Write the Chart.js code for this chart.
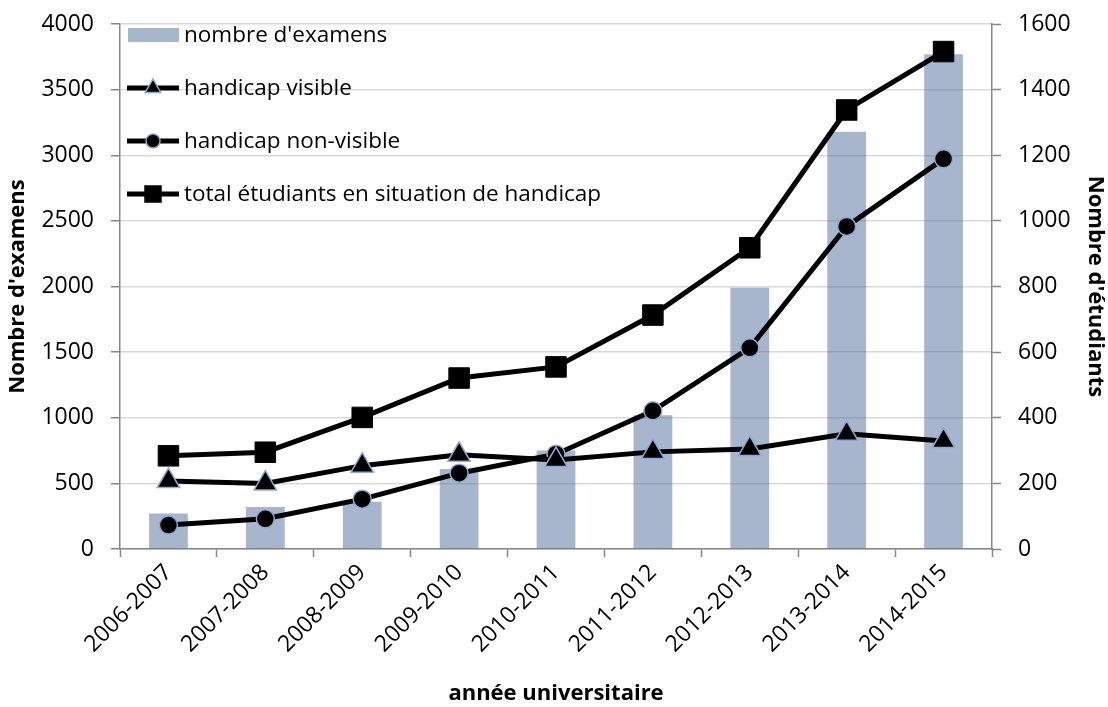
<!DOCTYPE html>
<html>
<head>
<meta charset="utf-8">
<script src="https://cdn.jsdelivr.net/npm/chart.js@4.4.1/dist/chart.umd.min.js"></script>
<style>
  body { margin: 0; background: #fff; }
</style>
</head>
<body>
<canvas id="myChart" width="1108" height="707"></canvas>
<script>
// Data
const years = ['2006-2007', '2007-2008', '2008-2009', '2009-2010', '2010-2011',
  '2011-2012', '2012-2013', '2013-2014', '2014-2015'];
const examens = [270, 320, 360, 610, 750, 1020, 1990, 3180, 3770];
const visible = [207, 200, 254, 287, 271, 296, 305, 351, 329];
const nonVisible = [73, 92, 152, 231, 289, 421, 613, 983, 1189];
const total = [284, 295, 401, 521, 555, 713, 918, 1338, 1516];

const barColor = 'rgba(80,110,155,0.5)';
const markerEdge = '#8eaad6';
const axisGray = '#868686';
const FONT = 'Open Sans';
const TICK_SIZE = 23;
const TITLE_SIZE = 22;

//legend drawn inside the plot area, top left
const insideLegend = {
  id: 'insideLegend',
  afterDatasetsDraw(chart) {
    const ctx = chart.ctx;
    const ds = chart.data.datasets;
    const x0 = 127, x1 = 179, tx = 184;
    const rows = [35, 88, 141, 194];
    ctx.save();
    ctx.font = '22.5px ' + FONT;
    ctx.textBaseline = 'middle';
    ds.forEach((d, i) => {
      const y = rows[i];
      if (d.type === 'bar') {
        ctx.fillStyle = barColor;
        ctx.fillRect(x0 + 1, y - 7, x1 - x0 - 1, 14);
      } else {
        ctx.strokeStyle = '#000';
        ctx.lineWidth = 5;
        ctx.beginPath();
        ctx.moveTo(x0, y);
        ctx.lineTo(x1, y);
        ctx.stroke();
        const cx = (x0 + x1) / 2;
        ctx.fillStyle = '#000';
        ctx.strokeStyle = d.pointBorderColor;
        ctx.lineWidth = 1.5;
        ctx.beginPath();
        if (d.pointStyle === 'triangle') {
          const r = 9;
          ctx.moveTo(cx, y - r);
          ctx.lineTo(cx + r * 0.866, y + r / 2);
          ctx.lineTo(cx - r * 0.866, y + r / 2);
          ctx.closePath();
        } else if (d.pointStyle === 'circle') {
          ctx.arc(cx, y, 7, 0, Math.PI * 2);
        } else {
          ctx.rect(cx - 8, y - 8, 16, 16);
        }
        ctx.fill();
        ctx.stroke();
      }
      ctx.fillStyle = '#000';
      ctx.fillText(d.label, tx, y + 1);
    });
    ctx.restore();
  }
};

const plain = v => String(v);

//fixed axis sizes so the plot area sits where the original one does
function fixWidth(w) {
  return scale => {
    scale.width = w;
    scale.paddingTop = 0;
    scale.paddingBottom = 0;
  };
}

let myChart = new Chart(document.getElementById('myChart').getContext('2d'), {
  data: {
    labels: years,
    datasets: [
      {
        type: 'bar',
        label: "nombre d'examens",
        data: examens,
        yAxisID: 'y',
        backgroundColor: barColor,
        barPercentage: 0.4,
        categoryPercentage: 1,
        order: 2
      },
      {
        type: 'line',
        label: 'handicap visible',
        data: visible,
        yAxisID: 'y1',
        borderColor: '#000',
        borderWidth: 5,
        pointStyle: 'triangle',
        pointRadius: 13,
        pointBackgroundColor: '#000',
        pointBorderColor: markerEdge,
        pointBorderWidth: 1.5,
        tension: 0,
        order: 1
      },
      {
        type: 'line',
        label: 'handicap non-visible',
        data: nonVisible,
        yAxisID: 'y1',
        borderColor: '#000',
        borderWidth: 5,
        pointStyle: 'circle',
        pointRadius: 9,
        pointBackgroundColor: '#000',
        pointBorderColor: markerEdge,
        pointBorderWidth: 1.5,
        tension: 0,
        order: 1
      },
      {
        type: 'line',
        label: 'total étudiants en situation de handicap',
        data: total,
        yAxisID: 'y1',
        borderColor: '#000',
        borderWidth: 5,
        pointStyle: 'rect',
        pointRadius: 14.5,
        pointBackgroundColor: '#000',
        pointBorderColor: '#000',
        pointBorderWidth: 1,
        tension: 0,
        order: 1
      }
    ]
  },
  options: {
    responsive: false,
    animation: false,
    devicePixelRatio: 1,
    layout: { padding: { top: 24, left: 0, right: 0, bottom: 0 } },
    plugins: {
      legend: { display: false },
      tooltip: { enabled: false }
    },
    scales: {
      x: {
        offset: true,
        grid: {
          offset: true,
          drawOnChartArea: false,
          drawTicks: true,
          tickLength: 8,
          tickColor: axisGray,
          tickWidth: 1.5
        },
        border: { color: axisGray, width: 1.5 },
        ticks: {
          color: '#000',
          font: { family: FONT, size: TICK_SIZE },
          minRotation: 45,
          maxRotation: 45,
          padding: 2
        },
        title: {
          display: true,
          text: 'année universitaire',
          color: '#000',
          font: { family: FONT, size: TITLE_SIZE, weight: 'bold' },
          padding: { top: 0, bottom: 0 }
        },
        afterFit(scale) { scale.height = 158; }
      },
      y: {
        position: 'left',
        min: 0,
        max: 4000,
        ticks: {
          stepSize: 500,
          color: '#000',
          font: { family: FONT, size: TICK_SIZE },
          padding: 17,
          callback: plain
        },
        grid: {
          color: '#d9d9d9',
          lineWidth: 1.5,
          tickLength: 9,
          tickColor: axisGray
        },
        border: { color: axisGray, width: 1.5 },
        title: {
          display: true,
          text: "Nombre d'examens",
          color: '#000',
          font: { family: FONT, size: TITLE_SIZE, weight: 'bold' },
          padding: { top: 5, bottom: 0 }
        },
        afterFit: fixWidth(120)
      },
      y1: {
        position: 'right',
        min: 0,
        max: 1600,
        ticks: {
          stepSize: 200,
          color: '#000',
          font: { family: FONT, size: TICK_SIZE },
          padding: 17,
          callback: plain
        },
        grid: {
          drawOnChartArea: false,
          tickLength: 9,
          tickColor: axisGray,
          tickWidth: 1.5
        },
        border: { color: axisGray, width: 1.5 },
        title: {
          display: true,
          text: "Nombre d'étudiants",
          color: '#000',
          font: { family: FONT, size: TITLE_SIZE, weight: 'bold' },
          padding: { top: 0, bottom: 0 }
        },
        afterFit: fixWidth(116)
      }
    }
  },
  plugins: [insideLegend]
});
</script>
</body>
</html>
